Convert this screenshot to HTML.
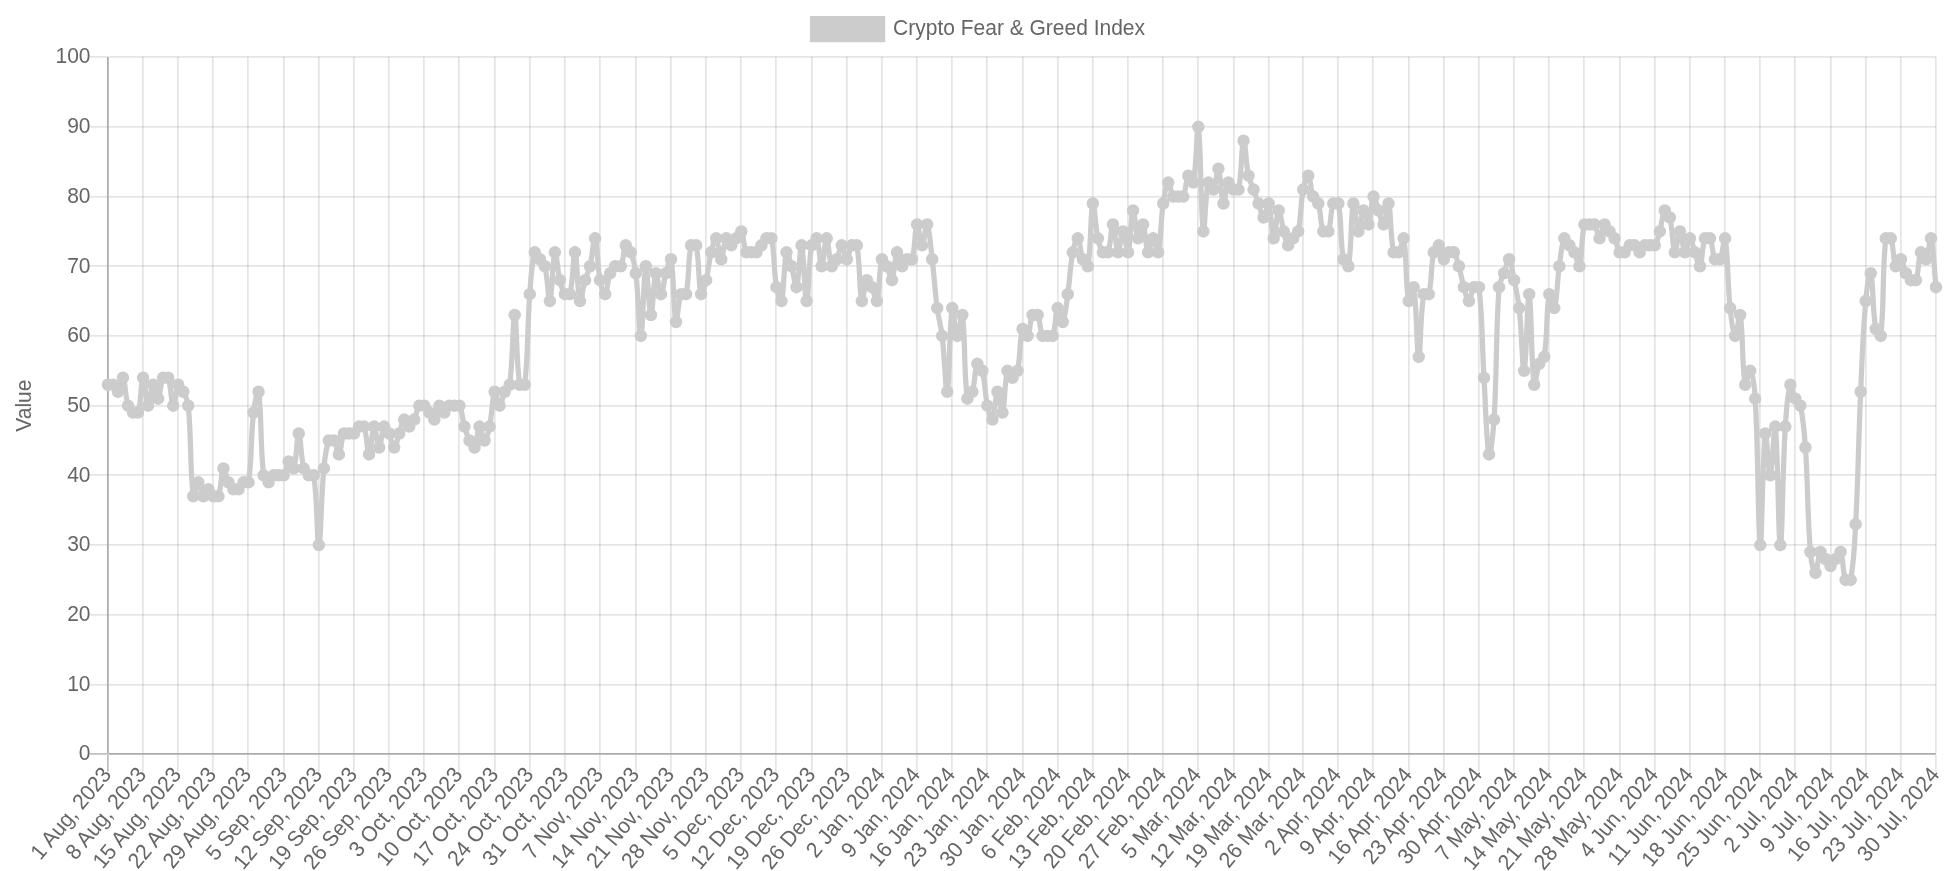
<!DOCTYPE html>
<html><head><meta charset="utf-8"><title>Crypto Fear &amp; Greed Index</title>
<style>html,body{margin:0;padding:0;background:#fff;width:1944px;height:871px;overflow:hidden}</style>
</head><body>
<svg width="1944" height="871" viewBox="0 0 1944 871" style="position:absolute;left:0;top:0;will-change:transform;font-family:'Liberation Sans',sans-serif;font-size:21px">
<rect width="1944" height="871" fill="#fff"/>
<path d="M142.875 56.75V753.00M142.875 754.75V771.50M177.875 56.75V753.00M177.875 754.75V771.50M212.875 56.75V753.00M212.875 754.75V771.50M247.875 56.75V753.00M247.875 754.75V771.50M283.875 56.75V753.00M283.875 754.75V771.50M318.875 56.75V753.00M318.875 754.75V771.50M353.875 56.75V753.00M353.875 754.75V771.50M388.875 56.75V753.00M388.875 754.75V771.50M423.875 56.75V753.00M423.875 754.75V771.50M458.875 56.75V753.00M458.875 754.75V771.50M494.875 56.75V753.00M494.875 754.75V771.50M529.875 56.75V753.00M529.875 754.75V771.50M564.875 56.75V753.00M564.875 754.75V771.50M599.875 56.75V753.00M599.875 754.75V771.50M635.875 56.75V753.00M635.875 754.75V771.50M670.875 56.75V753.00M670.875 754.75V771.50M705.875 56.75V753.00M705.875 754.75V771.50M740.875 56.75V753.00M740.875 754.75V771.50M775.875 56.75V753.00M775.875 754.75V771.50M811.875 56.75V753.00M811.875 754.75V771.50M846.875 56.75V753.00M846.875 754.75V771.50M881.875 56.75V753.00M881.875 754.75V771.50M916.875 56.75V753.00M916.875 754.75V771.50M951.875 56.75V753.00M951.875 754.75V771.50M986.875 56.75V753.00M986.875 754.75V771.50M1022.875 56.75V753.00M1022.875 754.75V771.50M1057.875 56.75V753.00M1057.875 754.75V771.50M1092.875 56.75V753.00M1092.875 754.75V771.50M1127.875 56.75V753.00M1127.875 754.75V771.50M1162.875 56.75V753.00M1162.875 754.75V771.50M1197.875 56.75V753.00M1197.875 754.75V771.50M1233.875 56.75V753.00M1233.875 754.75V771.50M1268.875 56.75V753.00M1268.875 754.75V771.50M1302.875 56.75V753.00M1302.875 754.75V771.50M1337.875 56.75V753.00M1337.875 754.75V771.50M1372.875 56.75V753.00M1372.875 754.75V771.50M1408.875 56.75V753.00M1408.875 754.75V771.50M1443.875 56.75V753.00M1443.875 754.75V771.50M1478.875 56.75V753.00M1478.875 754.75V771.50M1513.875 56.75V753.00M1513.875 754.75V771.50M1548.875 56.75V753.00M1548.875 754.75V771.50M1583.875 56.75V753.00M1583.875 754.75V771.50M1619.875 56.75V753.00M1619.875 754.75V771.50M1654.875 56.75V753.00M1654.875 754.75V771.50M1689.875 56.75V753.00M1689.875 754.75V771.50M1724.875 56.75V753.00M1724.875 754.75V771.50M1759.875 56.75V753.00M1759.875 754.75V771.50M1794.875 56.75V753.00M1794.875 754.75V771.50M1830.875 56.75V753.00M1830.875 754.75V771.50M1865.875 56.75V753.00M1865.875 754.75V771.50M1900.875 56.75V753.00M1900.875 754.75V771.50M1935.875 56.75V753.00M1935.875 754.75V771.50" stroke="#000" stroke-opacity="0.1" stroke-width="1.75" fill="none"/>
<path d="M90.00 684.875H107.00M108.75 684.875H1935.80M90.00 614.875H107.00M108.75 614.875H1935.80M90.00 544.875H107.00M108.75 544.875H1935.80M90.00 474.875H107.00M108.75 474.875H1935.80M90.00 405.875H107.00M108.75 405.875H1935.80M90.00 335.875H107.00M108.75 335.875H1935.80M90.00 265.875H107.00M108.75 265.875H1935.80M90.00 196.875H107.00M108.75 196.875H1935.80M90.00 126.875H107.00M108.75 126.875H1935.80M90.00 56.875H107.00M108.75 56.875H1935.80" stroke="#000" stroke-opacity="0.1" stroke-width="1.75" fill="none"/>
<path d="M107.875 56.75V753.00M107.875 754.75V771.50M90.00 753.875H107.00M108.75 753.875H1935.80" stroke="#000" stroke-opacity="0.25" stroke-width="1.75" fill="none"/>
<path d="M107.875 56.75V754.75" stroke="#000" stroke-opacity="0.1" stroke-width="1.75" fill="none"/>
<path d="M107.00 753.875H1935.80" stroke="#000" stroke-opacity="0.1" stroke-width="1.75" fill="none"/>
<path d="M107.90 384.74C109.91 384.74 111.44 383.71 112.92 384.74C115.46 386.50 116.47 392.73 117.94 391.71C120.49 389.95 121.59 375.86 122.97 377.77C125.60 381.43 124.91 394.95 127.99 405.65C128.92 408.89 130.48 410.86 133.01 412.62C134.49 413.65 137.53 414.36 138.03 412.62C141.55 400.42 140.83 379.31 143.06 377.77C144.85 376.53 145.79 404.07 148.08 405.65C149.81 406.85 150.72 386.39 153.10 384.74C154.74 383.60 156.48 399.82 158.12 398.68C160.50 397.03 159.89 384.55 163.14 377.77C163.91 376.19 167.56 376.09 168.17 377.77C171.58 387.24 170.91 404.07 173.19 405.65C174.92 406.85 175.34 388.72 178.21 384.74C179.36 383.15 181.76 388.64 183.23 391.71C185.78 397.00 187.69 399.78 188.26 405.65C191.71 441.60 189.82 469.90 193.28 496.26C193.84 500.56 196.29 482.32 198.30 482.32C200.31 482.32 200.78 494.50 203.32 496.26C204.80 497.28 206.34 489.29 208.35 489.29C210.35 489.29 210.83 494.50 213.37 496.26C214.85 497.29 217.78 497.94 218.39 496.26C221.80 486.79 220.77 472.04 223.41 468.38C224.79 466.47 225.89 477.03 228.43 482.32C229.91 485.39 230.92 487.53 233.46 489.29C234.94 490.32 237.00 490.32 238.48 489.29C241.01 487.53 240.97 484.08 243.50 482.32C244.98 481.29 248.25 484.19 248.52 482.32C252.27 456.31 250.47 440.34 253.55 412.62C254.49 404.09 257.75 386.59 258.57 391.71C261.76 411.68 259.95 442.48 263.59 475.35C263.96 478.72 266.60 482.32 268.61 482.32C270.62 482.32 271.10 477.11 273.63 475.35C275.12 474.32 276.65 475.35 278.66 475.35C280.67 475.35 282.66 476.76 283.68 475.35C286.68 471.19 286.16 463.17 288.70 461.41C290.18 460.39 292.94 470.57 293.72 468.38C296.95 459.42 296.74 433.53 298.75 433.53C300.75 433.53 300.54 454.93 303.77 468.38C304.56 471.66 306.25 473.59 308.79 475.35C310.27 476.38 313.54 473.48 313.81 475.35C317.56 501.36 316.92 546.38 318.83 545.05C320.94 543.59 320.92 498.93 323.86 468.38C324.94 457.11 325.47 449.97 328.88 440.50C329.48 438.82 332.88 439.09 333.90 440.50C336.90 444.66 337.28 455.58 338.92 454.44C341.30 452.79 340.69 440.31 343.95 433.53C344.71 431.95 346.96 433.53 348.97 433.53C350.98 433.53 352.51 434.56 353.99 433.53C356.53 431.77 356.48 428.32 359.01 426.56C360.49 425.53 363.43 424.88 364.03 426.56C367.45 436.03 367.05 454.44 369.06 454.44C371.07 454.44 371.80 428.14 374.08 426.56C375.81 425.36 377.09 447.47 379.10 447.47C381.11 447.47 381.25 430.54 384.12 426.56C385.27 424.97 387.67 430.46 389.15 433.53C391.69 438.82 392.16 447.47 394.17 447.47C396.18 447.47 397.18 439.11 399.19 433.53C401.20 427.95 401.67 421.35 404.21 419.59C405.69 418.57 407.23 426.56 409.24 426.56C411.24 426.56 412.78 422.66 414.26 419.59C416.80 414.30 416.28 409.81 419.28 405.65C420.30 404.24 422.82 404.62 424.30 405.65C426.84 407.41 427.32 409.83 429.32 412.62C431.33 415.41 432.87 420.61 434.35 419.59C436.89 417.83 436.83 407.41 439.37 405.65C440.84 404.63 442.38 412.62 444.39 412.62C446.40 412.62 446.88 407.41 449.41 405.65C450.90 404.62 452.43 405.65 454.44 405.65C456.44 405.65 458.70 404.07 459.46 405.65C462.71 412.43 462.10 418.31 464.48 426.56C466.12 432.25 466.96 435.21 469.50 440.50C470.98 443.57 473.38 449.06 474.52 447.47C477.40 443.49 477.17 428.21 479.55 426.56C481.19 425.42 482.56 440.50 484.57 440.50C486.58 440.50 488.40 432.34 489.59 426.56C492.42 412.82 491.79 397.60 494.61 391.71C495.80 389.23 497.63 405.65 499.64 405.65C501.64 405.65 502.11 397.00 504.66 391.71C506.13 388.64 509.24 388.10 509.68 384.74C513.26 357.43 512.69 315.04 514.70 315.04C516.71 315.04 515.98 358.73 519.72 384.74C519.99 386.61 524.54 386.64 524.75 384.74C528.55 350.40 527.03 330.31 529.77 294.13C531.04 277.34 531.45 263.89 534.79 252.31C535.47 249.95 537.80 256.49 539.81 259.28C541.82 262.07 544.05 262.97 544.84 266.25C548.07 279.70 548.18 303.43 549.86 301.10C552.20 297.85 552.33 257.61 554.88 252.31C556.35 249.25 557.26 269.21 559.90 280.19C561.28 285.93 561.92 289.97 564.93 294.13C565.94 295.54 569.52 295.91 569.95 294.13C573.54 279.18 573.11 251.02 574.97 252.31C577.13 253.81 577.20 293.35 579.99 301.10C581.22 304.50 582.64 288.44 585.01 280.19C586.65 274.50 588.66 271.99 590.04 266.25C592.67 255.27 593.44 236.13 595.06 238.37C597.46 241.70 597.11 263.69 600.08 280.19C601.13 285.99 603.46 295.27 605.10 294.13C607.48 292.48 607.25 281.19 610.13 273.22C611.27 270.04 612.57 267.94 615.15 266.25C616.83 265.15 619.89 267.98 620.77 266.25C624.15 259.62 622.92 249.32 625.79 245.34C626.94 243.75 629.67 249.13 630.81 252.31C633.69 260.28 634.81 264.70 635.84 273.22C638.83 298.16 638.96 337.27 640.86 335.95C642.97 334.48 643.52 271.16 645.88 266.25C647.54 262.80 648.74 313.54 650.90 315.04C652.76 316.33 653.27 278.76 655.93 273.22C657.28 270.39 658.94 294.13 660.95 294.13C662.96 294.13 663.59 281.47 665.97 273.22C667.61 267.53 670.23 255.56 670.99 259.28C674.24 275.08 673.24 312.40 676.01 322.01C677.26 326.34 677.62 303.60 681.04 294.13C681.64 292.45 685.69 295.94 686.06 294.13C689.70 276.43 687.44 263.04 691.08 245.34C691.45 243.53 695.73 243.53 696.10 245.34C699.75 263.04 698.04 283.42 701.13 294.13C702.06 297.36 704.77 285.93 706.15 280.19C708.79 269.21 708.53 263.29 711.17 252.31C712.55 246.57 714.55 237.23 716.19 238.37C718.57 240.02 719.21 259.28 721.21 259.28C723.22 259.28 723.37 242.35 726.24 238.37C727.38 236.78 729.25 245.34 731.26 245.34C733.27 245.34 734.27 241.16 736.28 238.37C738.29 235.58 740.16 229.81 741.30 231.40C744.17 235.38 743.07 245.53 746.33 252.31C747.09 253.89 749.34 252.31 751.35 252.31C753.36 252.31 754.89 253.34 756.37 252.31C758.91 250.55 759.38 248.13 761.39 245.34C763.40 242.55 763.88 240.13 766.42 238.37C767.90 237.34 771.06 236.56 771.44 238.37C775.08 256.07 773.37 267.89 776.46 287.16C777.39 292.98 780.55 304.33 781.48 301.10C784.57 290.39 783.42 263.02 786.50 252.31C787.44 249.08 789.89 260.56 791.53 266.25C793.91 274.50 795.19 289.99 796.55 287.16C799.21 281.62 799.85 242.95 801.57 245.34C803.86 248.52 804.58 301.10 806.59 301.10C808.60 301.10 808.13 267.09 811.62 245.34C812.15 242.00 815.70 236.42 816.64 238.37C819.72 244.79 819.65 266.25 821.66 266.25C823.67 266.25 824.67 238.37 826.68 238.37C828.69 238.37 828.62 259.83 831.70 266.25C832.64 268.20 835.25 262.35 836.73 259.28C839.27 253.99 839.74 245.34 841.75 245.34C843.76 245.34 844.76 259.28 846.77 259.28C848.78 259.28 848.79 249.50 851.79 245.34C852.81 243.93 856.48 243.50 856.82 245.34C860.50 265.81 858.94 291.03 861.84 301.10C862.95 304.97 863.99 284.17 866.86 280.19C868.01 278.60 870.41 284.09 871.88 287.16C874.43 292.45 875.86 304.00 876.90 301.10C879.88 292.85 878.59 270.86 881.93 259.28C882.61 256.92 885.47 263.18 886.95 266.25C889.49 271.54 890.59 282.10 891.97 280.19C894.61 276.53 894.36 255.97 896.99 252.31C898.37 250.40 899.47 264.49 902.02 266.25C903.49 267.27 904.50 261.04 907.04 259.28C908.52 258.25 911.56 261.02 912.06 259.28C915.58 247.08 914.59 227.89 917.08 224.43C918.61 222.32 920.10 245.34 922.10 245.34C924.11 245.34 925.60 222.32 927.13 224.43C929.62 227.89 930.47 245.30 932.15 259.28C934.49 278.76 934.62 288.63 937.17 308.07C938.64 319.30 940.84 324.71 942.19 335.95C944.86 358.17 945.61 396.18 947.22 391.71C949.62 385.02 949.24 324.74 952.24 308.07C953.25 302.43 954.98 334.37 957.26 335.95C958.99 337.15 961.46 309.92 962.28 315.04C965.48 335.01 963.66 370.86 967.31 398.68C967.68 401.53 971.39 394.95 972.33 391.71C975.41 381.01 974.27 370.25 977.35 363.83C978.28 361.88 981.58 367.52 982.37 370.80C985.60 384.25 984.57 391.91 987.39 405.65C988.58 411.43 991.04 421.50 992.42 419.59C995.05 415.93 995.15 393.29 997.44 391.71C999.17 390.51 1001.10 415.45 1002.46 412.62C1005.12 407.08 1004.15 382.38 1007.48 370.80C1008.16 368.44 1010.50 377.77 1012.51 377.77C1014.51 377.77 1016.85 374.11 1017.53 370.80C1020.86 354.59 1019.21 340.56 1022.55 328.98C1023.23 326.62 1026.43 337.54 1027.57 335.95C1030.44 331.97 1029.34 321.82 1032.59 315.04C1033.36 313.46 1036.86 313.46 1037.62 315.04C1040.87 321.82 1039.38 329.17 1042.64 335.95C1043.40 337.53 1045.65 335.95 1047.66 335.95C1049.67 335.95 1052.08 337.63 1052.68 335.95C1056.10 326.48 1055.07 311.73 1057.71 308.07C1059.09 306.16 1061.35 323.92 1062.73 322.01C1065.37 318.35 1066.13 305.34 1067.75 294.13C1070.15 277.46 1069.80 268.81 1072.77 252.31C1073.82 246.51 1076.16 237.23 1077.79 238.37C1080.17 240.02 1079.95 251.31 1082.82 259.28C1083.96 262.46 1087.36 268.93 1087.84 266.25C1091.37 246.63 1090.29 210.67 1092.86 203.52C1094.30 199.52 1095.06 224.63 1097.88 238.37C1099.07 244.15 1099.91 248.15 1102.91 252.31C1103.92 253.72 1107.32 253.99 1107.93 252.31C1111.34 242.84 1110.94 224.43 1112.95 224.43C1114.96 224.43 1115.69 250.73 1117.97 252.31C1119.71 253.51 1120.99 231.40 1123.00 231.40C1125.00 231.40 1126.66 255.14 1128.02 252.31C1130.68 246.77 1130.64 213.82 1133.04 210.49C1134.66 208.25 1135.42 234.71 1138.06 238.37C1139.44 240.28 1141.70 222.52 1143.08 224.43C1145.72 228.09 1145.47 248.65 1148.11 252.31C1149.49 254.22 1151.12 238.37 1153.13 238.37C1155.14 238.37 1157.22 255.54 1158.15 252.31C1161.24 241.60 1160.38 222.90 1163.17 203.52C1164.40 195.02 1165.82 184.26 1168.20 182.61C1169.83 181.47 1170.22 192.39 1173.22 196.55C1174.23 197.96 1176.23 196.55 1178.24 196.55C1180.25 196.55 1182.50 198.13 1183.26 196.55C1186.52 189.77 1185.41 179.62 1188.28 175.64C1189.43 174.05 1192.77 185.21 1193.31 182.61C1196.79 165.69 1196.93 120.05 1198.33 126.85C1200.95 139.57 1200.62 216.21 1203.35 231.40C1204.63 238.52 1204.95 196.84 1208.37 182.61C1208.97 180.12 1212.25 191.17 1213.40 189.58C1216.27 185.60 1216.89 166.56 1218.42 168.67C1220.91 172.13 1220.95 200.06 1223.44 203.52C1224.96 205.63 1225.59 186.59 1228.46 182.61C1229.61 181.02 1230.95 187.82 1233.48 189.58C1234.97 190.61 1238.13 191.39 1238.51 189.58C1242.15 171.88 1241.19 144.04 1243.53 140.79C1245.21 138.46 1245.72 161.90 1248.55 175.64C1249.74 181.42 1251.56 184.00 1253.57 189.58C1255.58 195.16 1256.59 197.94 1258.60 203.52C1260.60 209.10 1261.61 217.46 1263.62 217.46C1265.63 217.46 1267.45 201.04 1268.64 203.52C1271.47 209.41 1271.44 236.83 1273.66 238.37C1275.45 239.61 1276.40 212.07 1278.68 210.49C1280.42 209.29 1281.46 223.10 1283.71 231.40C1285.24 237.04 1285.75 243.58 1288.13 245.34C1289.53 246.37 1291.14 241.16 1293.15 238.37C1295.16 235.58 1297.49 234.71 1298.17 231.40C1301.51 215.19 1300.22 206.08 1303.20 189.58C1304.24 183.78 1306.58 174.50 1308.22 175.64C1310.60 177.29 1310.37 188.58 1313.24 196.55C1314.39 199.73 1317.33 200.28 1318.26 203.52C1321.35 214.22 1319.87 221.93 1323.29 231.40C1323.89 233.08 1327.70 233.08 1328.31 231.40C1331.72 221.93 1329.92 212.99 1333.33 203.52C1333.93 201.84 1338.02 201.68 1338.35 203.52C1342.04 223.99 1339.89 237.53 1343.37 259.28C1343.91 262.62 1347.91 268.93 1348.40 266.25C1351.93 246.63 1350.65 213.13 1353.42 203.52C1354.67 199.19 1356.16 229.82 1358.44 231.40C1360.17 232.60 1361.08 212.14 1363.46 210.49C1365.10 209.35 1367.11 226.34 1368.49 224.43C1371.12 220.77 1370.87 200.21 1373.51 196.55C1374.89 194.64 1376.52 204.91 1378.53 210.49C1380.54 216.07 1381.91 225.57 1383.55 224.43C1385.93 222.78 1387.35 200.12 1388.57 203.52C1391.37 211.27 1389.95 234.61 1393.60 252.31C1393.97 254.12 1397.60 253.72 1398.62 252.31C1401.62 248.15 1402.88 234.65 1403.64 238.37C1406.89 254.17 1405.41 285.30 1408.66 301.10C1409.43 304.82 1412.98 283.26 1413.69 287.16C1417.00 305.56 1416.59 355.39 1418.71 356.86C1420.61 358.18 1420.01 317.37 1423.73 294.13C1424.03 292.28 1428.32 295.91 1428.75 294.13C1432.34 279.18 1430.44 268.52 1433.77 252.31C1434.46 249.00 1437.32 244.32 1438.80 245.34C1441.34 247.10 1441.28 257.52 1443.82 259.28C1445.29 260.30 1446.31 254.07 1448.84 252.31C1450.32 251.28 1452.85 250.90 1453.86 252.31C1456.86 256.47 1457.25 260.56 1458.89 266.25C1461.26 274.50 1461.53 278.91 1463.91 287.16C1465.55 292.85 1466.92 301.10 1468.93 301.10C1470.94 301.10 1470.95 291.32 1473.95 287.16C1474.97 285.75 1478.76 285.26 1478.98 287.16C1482.78 321.50 1481.82 341.54 1484.00 377.77C1485.84 408.45 1486.26 442.97 1489.02 454.44C1490.28 459.70 1493.20 433.64 1494.04 419.59C1497.22 366.72 1495.45 339.82 1499.06 287.16C1499.47 281.27 1502.08 278.80 1504.09 273.22C1506.10 267.64 1507.47 258.14 1509.11 259.28C1511.49 260.93 1512.40 271.77 1514.13 280.19C1516.41 291.28 1517.91 296.82 1519.15 308.07C1521.92 333.06 1522.37 373.31 1524.18 370.80C1526.38 367.73 1527.36 291.57 1529.20 294.13C1531.37 297.15 1530.97 362.20 1534.22 384.74C1534.99 390.08 1536.37 371.80 1539.24 363.83C1540.39 360.65 1543.78 360.21 1544.26 356.86C1547.80 332.33 1546.03 309.93 1549.29 294.13C1550.05 290.41 1553.26 310.97 1554.31 308.07C1557.28 299.82 1556.93 282.92 1559.33 266.25C1560.95 255.04 1561.27 244.79 1564.35 238.37C1565.29 236.42 1567.37 242.55 1569.38 245.34C1571.38 248.13 1572.92 249.24 1574.40 252.31C1576.94 257.60 1578.37 269.15 1579.42 266.25C1582.39 258.00 1580.85 239.38 1584.44 224.43C1584.87 222.65 1587.46 224.43 1589.46 224.43C1591.47 224.43 1593.47 223.02 1594.49 224.43C1597.49 228.59 1597.50 238.37 1599.51 238.37C1601.52 238.37 1601.99 226.19 1604.53 224.43C1606.01 223.41 1607.54 228.61 1609.55 231.40C1611.56 234.19 1613.10 235.30 1614.58 238.37C1617.12 243.66 1616.60 248.15 1619.60 252.31C1620.62 253.72 1623.14 253.34 1624.62 252.31C1627.16 250.55 1627.11 247.10 1629.64 245.34C1631.12 244.31 1633.18 244.31 1634.66 245.34C1637.20 247.10 1637.68 252.31 1639.69 252.31C1641.70 252.31 1642.17 247.10 1644.71 245.34C1646.19 244.31 1647.72 245.34 1649.73 245.34C1651.74 245.34 1653.74 246.75 1654.75 245.34C1657.75 241.18 1658.14 237.09 1659.78 231.40C1662.15 223.15 1661.93 214.47 1664.80 210.49C1665.95 208.90 1669.03 214.18 1669.82 217.46C1673.05 230.91 1672.35 248.85 1674.84 252.31C1676.37 254.42 1677.86 231.40 1679.87 231.40C1681.87 231.40 1682.51 250.66 1684.89 252.31C1686.53 253.45 1687.90 238.37 1689.91 238.37C1691.92 238.37 1692.92 246.73 1694.93 252.31C1696.94 257.89 1698.57 268.16 1699.95 266.25C1702.59 262.59 1701.56 247.84 1704.98 238.37C1705.58 236.69 1709.24 236.79 1710.00 238.37C1713.26 245.15 1711.76 252.50 1715.02 259.28C1715.78 260.86 1719.28 260.86 1720.04 259.28C1723.30 252.50 1724.12 233.78 1725.07 238.37C1728.14 253.29 1727.23 280.30 1730.09 308.07C1731.25 319.33 1732.83 334.37 1735.11 335.95C1736.84 337.15 1739.19 310.45 1740.13 315.04C1743.20 329.96 1741.84 366.34 1745.15 384.74C1745.86 388.64 1748.80 368.89 1750.18 370.80C1752.81 374.46 1754.55 387.38 1755.20 398.68C1758.57 457.08 1757.94 537.14 1760.22 545.05C1761.96 551.08 1762.33 453.77 1765.24 433.53C1766.34 425.89 1768.41 476.64 1770.27 475.35C1772.43 473.85 1774.11 418.40 1775.29 426.56C1778.13 446.28 1778.30 545.05 1780.31 545.05C1782.32 545.05 1782.37 473.88 1785.33 426.56C1786.39 409.75 1787.38 392.99 1790.35 384.74C1791.40 381.84 1792.83 393.39 1795.38 398.68C1796.85 401.75 1799.72 402.34 1800.40 405.65C1803.74 421.86 1804.27 430.67 1805.42 447.47C1808.29 489.22 1807.11 510.39 1810.44 552.02C1811.13 560.57 1813.46 572.93 1815.47 572.93C1817.47 572.93 1817.62 556.00 1820.49 552.02C1821.64 550.43 1823.50 556.20 1825.51 558.99C1827.52 561.78 1828.52 565.96 1830.53 565.96C1832.54 565.96 1833.55 561.78 1835.55 558.99C1837.56 556.20 1839.64 550.07 1840.58 552.02C1843.66 558.44 1842.19 570.43 1845.60 579.90C1846.20 581.58 1850.29 581.74 1850.62 579.90C1854.31 559.43 1854.45 546.50 1855.64 524.14C1858.47 471.22 1858.28 444.66 1860.67 391.71C1862.30 355.45 1862.63 337.22 1865.69 301.10C1866.64 289.82 1869.36 269.47 1870.71 273.22C1873.38 280.63 1872.25 307.23 1875.73 328.98C1876.27 332.32 1880.43 338.88 1880.76 335.95C1884.45 302.64 1881.96 275.49 1885.78 238.37C1885.97 236.46 1890.19 236.69 1890.80 238.37C1894.21 247.84 1892.74 259.83 1895.82 266.25C1896.76 268.20 1899.37 258.26 1900.84 259.28C1903.39 261.04 1903.32 267.93 1905.87 273.22C1907.34 276.29 1908.35 278.43 1910.89 280.19C1912.37 281.22 1915.31 281.87 1915.91 280.19C1919.32 270.72 1917.85 258.73 1920.93 252.31C1921.87 250.36 1924.81 260.87 1925.96 259.28C1928.83 255.30 1929.75 234.97 1930.98 238.37C1933.77 246.12 1933.99 267.64 1936.00 287.16" stroke="#cccccc" stroke-width="5.25" fill="none" stroke-linecap="butt" stroke-linejoin="miter" stroke-miterlimit="10"/>
<path d="M101.65 384.74a6.25 6.25 0 1 0 12.5 0a6.25 6.25 0 1 0 -12.5 0zM106.67 384.74a6.25 6.25 0 1 0 12.5 0a6.25 6.25 0 1 0 -12.5 0zM111.69 391.71a6.25 6.25 0 1 0 12.5 0a6.25 6.25 0 1 0 -12.5 0zM116.72 377.77a6.25 6.25 0 1 0 12.5 0a6.25 6.25 0 1 0 -12.5 0zM121.74 405.65a6.25 6.25 0 1 0 12.5 0a6.25 6.25 0 1 0 -12.5 0zM126.76 412.62a6.25 6.25 0 1 0 12.5 0a6.25 6.25 0 1 0 -12.5 0zM131.78 412.62a6.25 6.25 0 1 0 12.5 0a6.25 6.25 0 1 0 -12.5 0zM136.81 377.77a6.25 6.25 0 1 0 12.5 0a6.25 6.25 0 1 0 -12.5 0zM141.83 405.65a6.25 6.25 0 1 0 12.5 0a6.25 6.25 0 1 0 -12.5 0zM146.85 384.74a6.25 6.25 0 1 0 12.5 0a6.25 6.25 0 1 0 -12.5 0zM151.87 398.68a6.25 6.25 0 1 0 12.5 0a6.25 6.25 0 1 0 -12.5 0zM156.89 377.77a6.25 6.25 0 1 0 12.5 0a6.25 6.25 0 1 0 -12.5 0zM161.92 377.77a6.25 6.25 0 1 0 12.5 0a6.25 6.25 0 1 0 -12.5 0zM166.94 405.65a6.25 6.25 0 1 0 12.5 0a6.25 6.25 0 1 0 -12.5 0zM171.96 384.74a6.25 6.25 0 1 0 12.5 0a6.25 6.25 0 1 0 -12.5 0zM176.98 391.71a6.25 6.25 0 1 0 12.5 0a6.25 6.25 0 1 0 -12.5 0zM182.01 405.65a6.25 6.25 0 1 0 12.5 0a6.25 6.25 0 1 0 -12.5 0zM187.03 496.26a6.25 6.25 0 1 0 12.5 0a6.25 6.25 0 1 0 -12.5 0zM192.05 482.32a6.25 6.25 0 1 0 12.5 0a6.25 6.25 0 1 0 -12.5 0zM197.07 496.26a6.25 6.25 0 1 0 12.5 0a6.25 6.25 0 1 0 -12.5 0zM202.10 489.29a6.25 6.25 0 1 0 12.5 0a6.25 6.25 0 1 0 -12.5 0zM207.12 496.26a6.25 6.25 0 1 0 12.5 0a6.25 6.25 0 1 0 -12.5 0zM212.14 496.26a6.25 6.25 0 1 0 12.5 0a6.25 6.25 0 1 0 -12.5 0zM217.16 468.38a6.25 6.25 0 1 0 12.5 0a6.25 6.25 0 1 0 -12.5 0zM222.18 482.32a6.25 6.25 0 1 0 12.5 0a6.25 6.25 0 1 0 -12.5 0zM227.21 489.29a6.25 6.25 0 1 0 12.5 0a6.25 6.25 0 1 0 -12.5 0zM232.23 489.29a6.25 6.25 0 1 0 12.5 0a6.25 6.25 0 1 0 -12.5 0zM237.25 482.32a6.25 6.25 0 1 0 12.5 0a6.25 6.25 0 1 0 -12.5 0zM242.27 482.32a6.25 6.25 0 1 0 12.5 0a6.25 6.25 0 1 0 -12.5 0zM247.30 412.62a6.25 6.25 0 1 0 12.5 0a6.25 6.25 0 1 0 -12.5 0zM252.32 391.71a6.25 6.25 0 1 0 12.5 0a6.25 6.25 0 1 0 -12.5 0zM257.34 475.35a6.25 6.25 0 1 0 12.5 0a6.25 6.25 0 1 0 -12.5 0zM262.36 482.32a6.25 6.25 0 1 0 12.5 0a6.25 6.25 0 1 0 -12.5 0zM267.38 475.35a6.25 6.25 0 1 0 12.5 0a6.25 6.25 0 1 0 -12.5 0zM272.41 475.35a6.25 6.25 0 1 0 12.5 0a6.25 6.25 0 1 0 -12.5 0zM277.43 475.35a6.25 6.25 0 1 0 12.5 0a6.25 6.25 0 1 0 -12.5 0zM282.45 461.41a6.25 6.25 0 1 0 12.5 0a6.25 6.25 0 1 0 -12.5 0zM287.47 468.38a6.25 6.25 0 1 0 12.5 0a6.25 6.25 0 1 0 -12.5 0zM292.50 433.53a6.25 6.25 0 1 0 12.5 0a6.25 6.25 0 1 0 -12.5 0zM297.52 468.38a6.25 6.25 0 1 0 12.5 0a6.25 6.25 0 1 0 -12.5 0zM302.54 475.35a6.25 6.25 0 1 0 12.5 0a6.25 6.25 0 1 0 -12.5 0zM307.56 475.35a6.25 6.25 0 1 0 12.5 0a6.25 6.25 0 1 0 -12.5 0zM312.58 545.05a6.25 6.25 0 1 0 12.5 0a6.25 6.25 0 1 0 -12.5 0zM317.61 468.38a6.25 6.25 0 1 0 12.5 0a6.25 6.25 0 1 0 -12.5 0zM322.63 440.50a6.25 6.25 0 1 0 12.5 0a6.25 6.25 0 1 0 -12.5 0zM327.65 440.50a6.25 6.25 0 1 0 12.5 0a6.25 6.25 0 1 0 -12.5 0zM332.67 454.44a6.25 6.25 0 1 0 12.5 0a6.25 6.25 0 1 0 -12.5 0zM337.70 433.53a6.25 6.25 0 1 0 12.5 0a6.25 6.25 0 1 0 -12.5 0zM342.72 433.53a6.25 6.25 0 1 0 12.5 0a6.25 6.25 0 1 0 -12.5 0zM347.74 433.53a6.25 6.25 0 1 0 12.5 0a6.25 6.25 0 1 0 -12.5 0zM352.76 426.56a6.25 6.25 0 1 0 12.5 0a6.25 6.25 0 1 0 -12.5 0zM357.78 426.56a6.25 6.25 0 1 0 12.5 0a6.25 6.25 0 1 0 -12.5 0zM362.81 454.44a6.25 6.25 0 1 0 12.5 0a6.25 6.25 0 1 0 -12.5 0zM367.83 426.56a6.25 6.25 0 1 0 12.5 0a6.25 6.25 0 1 0 -12.5 0zM372.85 447.47a6.25 6.25 0 1 0 12.5 0a6.25 6.25 0 1 0 -12.5 0zM377.87 426.56a6.25 6.25 0 1 0 12.5 0a6.25 6.25 0 1 0 -12.5 0zM382.90 433.53a6.25 6.25 0 1 0 12.5 0a6.25 6.25 0 1 0 -12.5 0zM387.92 447.47a6.25 6.25 0 1 0 12.5 0a6.25 6.25 0 1 0 -12.5 0zM392.94 433.53a6.25 6.25 0 1 0 12.5 0a6.25 6.25 0 1 0 -12.5 0zM397.96 419.59a6.25 6.25 0 1 0 12.5 0a6.25 6.25 0 1 0 -12.5 0zM402.99 426.56a6.25 6.25 0 1 0 12.5 0a6.25 6.25 0 1 0 -12.5 0zM408.01 419.59a6.25 6.25 0 1 0 12.5 0a6.25 6.25 0 1 0 -12.5 0zM413.03 405.65a6.25 6.25 0 1 0 12.5 0a6.25 6.25 0 1 0 -12.5 0zM418.05 405.65a6.25 6.25 0 1 0 12.5 0a6.25 6.25 0 1 0 -12.5 0zM423.07 412.62a6.25 6.25 0 1 0 12.5 0a6.25 6.25 0 1 0 -12.5 0zM428.10 419.59a6.25 6.25 0 1 0 12.5 0a6.25 6.25 0 1 0 -12.5 0zM433.12 405.65a6.25 6.25 0 1 0 12.5 0a6.25 6.25 0 1 0 -12.5 0zM438.14 412.62a6.25 6.25 0 1 0 12.5 0a6.25 6.25 0 1 0 -12.5 0zM443.16 405.65a6.25 6.25 0 1 0 12.5 0a6.25 6.25 0 1 0 -12.5 0zM448.19 405.65a6.25 6.25 0 1 0 12.5 0a6.25 6.25 0 1 0 -12.5 0zM453.21 405.65a6.25 6.25 0 1 0 12.5 0a6.25 6.25 0 1 0 -12.5 0zM458.23 426.56a6.25 6.25 0 1 0 12.5 0a6.25 6.25 0 1 0 -12.5 0zM463.25 440.50a6.25 6.25 0 1 0 12.5 0a6.25 6.25 0 1 0 -12.5 0zM468.27 447.47a6.25 6.25 0 1 0 12.5 0a6.25 6.25 0 1 0 -12.5 0zM473.30 426.56a6.25 6.25 0 1 0 12.5 0a6.25 6.25 0 1 0 -12.5 0zM478.32 440.50a6.25 6.25 0 1 0 12.5 0a6.25 6.25 0 1 0 -12.5 0zM483.34 426.56a6.25 6.25 0 1 0 12.5 0a6.25 6.25 0 1 0 -12.5 0zM488.36 391.71a6.25 6.25 0 1 0 12.5 0a6.25 6.25 0 1 0 -12.5 0zM493.39 405.65a6.25 6.25 0 1 0 12.5 0a6.25 6.25 0 1 0 -12.5 0zM498.41 391.71a6.25 6.25 0 1 0 12.5 0a6.25 6.25 0 1 0 -12.5 0zM503.43 384.74a6.25 6.25 0 1 0 12.5 0a6.25 6.25 0 1 0 -12.5 0zM508.45 315.04a6.25 6.25 0 1 0 12.5 0a6.25 6.25 0 1 0 -12.5 0zM513.47 384.74a6.25 6.25 0 1 0 12.5 0a6.25 6.25 0 1 0 -12.5 0zM518.50 384.74a6.25 6.25 0 1 0 12.5 0a6.25 6.25 0 1 0 -12.5 0zM523.52 294.13a6.25 6.25 0 1 0 12.5 0a6.25 6.25 0 1 0 -12.5 0zM528.54 252.31a6.25 6.25 0 1 0 12.5 0a6.25 6.25 0 1 0 -12.5 0zM533.56 259.28a6.25 6.25 0 1 0 12.5 0a6.25 6.25 0 1 0 -12.5 0zM538.59 266.25a6.25 6.25 0 1 0 12.5 0a6.25 6.25 0 1 0 -12.5 0zM543.61 301.10a6.25 6.25 0 1 0 12.5 0a6.25 6.25 0 1 0 -12.5 0zM548.63 252.31a6.25 6.25 0 1 0 12.5 0a6.25 6.25 0 1 0 -12.5 0zM553.65 280.19a6.25 6.25 0 1 0 12.5 0a6.25 6.25 0 1 0 -12.5 0zM558.68 294.13a6.25 6.25 0 1 0 12.5 0a6.25 6.25 0 1 0 -12.5 0zM563.70 294.13a6.25 6.25 0 1 0 12.5 0a6.25 6.25 0 1 0 -12.5 0zM568.72 252.31a6.25 6.25 0 1 0 12.5 0a6.25 6.25 0 1 0 -12.5 0zM573.74 301.10a6.25 6.25 0 1 0 12.5 0a6.25 6.25 0 1 0 -12.5 0zM578.76 280.19a6.25 6.25 0 1 0 12.5 0a6.25 6.25 0 1 0 -12.5 0zM583.79 266.25a6.25 6.25 0 1 0 12.5 0a6.25 6.25 0 1 0 -12.5 0zM588.81 238.37a6.25 6.25 0 1 0 12.5 0a6.25 6.25 0 1 0 -12.5 0zM593.83 280.19a6.25 6.25 0 1 0 12.5 0a6.25 6.25 0 1 0 -12.5 0zM598.85 294.13a6.25 6.25 0 1 0 12.5 0a6.25 6.25 0 1 0 -12.5 0zM603.88 273.22a6.25 6.25 0 1 0 12.5 0a6.25 6.25 0 1 0 -12.5 0zM608.90 266.25a6.25 6.25 0 1 0 12.5 0a6.25 6.25 0 1 0 -12.5 0zM614.52 266.25a6.25 6.25 0 1 0 12.5 0a6.25 6.25 0 1 0 -12.5 0zM619.54 245.34a6.25 6.25 0 1 0 12.5 0a6.25 6.25 0 1 0 -12.5 0zM624.56 252.31a6.25 6.25 0 1 0 12.5 0a6.25 6.25 0 1 0 -12.5 0zM629.59 273.22a6.25 6.25 0 1 0 12.5 0a6.25 6.25 0 1 0 -12.5 0zM634.61 335.95a6.25 6.25 0 1 0 12.5 0a6.25 6.25 0 1 0 -12.5 0zM639.63 266.25a6.25 6.25 0 1 0 12.5 0a6.25 6.25 0 1 0 -12.5 0zM644.65 315.04a6.25 6.25 0 1 0 12.5 0a6.25 6.25 0 1 0 -12.5 0zM649.68 273.22a6.25 6.25 0 1 0 12.5 0a6.25 6.25 0 1 0 -12.5 0zM654.70 294.13a6.25 6.25 0 1 0 12.5 0a6.25 6.25 0 1 0 -12.5 0zM659.72 273.22a6.25 6.25 0 1 0 12.5 0a6.25 6.25 0 1 0 -12.5 0zM664.74 259.28a6.25 6.25 0 1 0 12.5 0a6.25 6.25 0 1 0 -12.5 0zM669.76 322.01a6.25 6.25 0 1 0 12.5 0a6.25 6.25 0 1 0 -12.5 0zM674.79 294.13a6.25 6.25 0 1 0 12.5 0a6.25 6.25 0 1 0 -12.5 0zM679.81 294.13a6.25 6.25 0 1 0 12.5 0a6.25 6.25 0 1 0 -12.5 0zM684.83 245.34a6.25 6.25 0 1 0 12.5 0a6.25 6.25 0 1 0 -12.5 0zM689.85 245.34a6.25 6.25 0 1 0 12.5 0a6.25 6.25 0 1 0 -12.5 0zM694.88 294.13a6.25 6.25 0 1 0 12.5 0a6.25 6.25 0 1 0 -12.5 0zM699.90 280.19a6.25 6.25 0 1 0 12.5 0a6.25 6.25 0 1 0 -12.5 0zM704.92 252.31a6.25 6.25 0 1 0 12.5 0a6.25 6.25 0 1 0 -12.5 0zM709.94 238.37a6.25 6.25 0 1 0 12.5 0a6.25 6.25 0 1 0 -12.5 0zM714.96 259.28a6.25 6.25 0 1 0 12.5 0a6.25 6.25 0 1 0 -12.5 0zM719.99 238.37a6.25 6.25 0 1 0 12.5 0a6.25 6.25 0 1 0 -12.5 0zM725.01 245.34a6.25 6.25 0 1 0 12.5 0a6.25 6.25 0 1 0 -12.5 0zM730.03 238.37a6.25 6.25 0 1 0 12.5 0a6.25 6.25 0 1 0 -12.5 0zM735.05 231.40a6.25 6.25 0 1 0 12.5 0a6.25 6.25 0 1 0 -12.5 0zM740.08 252.31a6.25 6.25 0 1 0 12.5 0a6.25 6.25 0 1 0 -12.5 0zM745.10 252.31a6.25 6.25 0 1 0 12.5 0a6.25 6.25 0 1 0 -12.5 0zM750.12 252.31a6.25 6.25 0 1 0 12.5 0a6.25 6.25 0 1 0 -12.5 0zM755.14 245.34a6.25 6.25 0 1 0 12.5 0a6.25 6.25 0 1 0 -12.5 0zM760.17 238.37a6.25 6.25 0 1 0 12.5 0a6.25 6.25 0 1 0 -12.5 0zM765.19 238.37a6.25 6.25 0 1 0 12.5 0a6.25 6.25 0 1 0 -12.5 0zM770.21 287.16a6.25 6.25 0 1 0 12.5 0a6.25 6.25 0 1 0 -12.5 0zM775.23 301.10a6.25 6.25 0 1 0 12.5 0a6.25 6.25 0 1 0 -12.5 0zM780.25 252.31a6.25 6.25 0 1 0 12.5 0a6.25 6.25 0 1 0 -12.5 0zM785.28 266.25a6.25 6.25 0 1 0 12.5 0a6.25 6.25 0 1 0 -12.5 0zM790.30 287.16a6.25 6.25 0 1 0 12.5 0a6.25 6.25 0 1 0 -12.5 0zM795.32 245.34a6.25 6.25 0 1 0 12.5 0a6.25 6.25 0 1 0 -12.5 0zM800.34 301.10a6.25 6.25 0 1 0 12.5 0a6.25 6.25 0 1 0 -12.5 0zM805.37 245.34a6.25 6.25 0 1 0 12.5 0a6.25 6.25 0 1 0 -12.5 0zM810.39 238.37a6.25 6.25 0 1 0 12.5 0a6.25 6.25 0 1 0 -12.5 0zM815.41 266.25a6.25 6.25 0 1 0 12.5 0a6.25 6.25 0 1 0 -12.5 0zM820.43 238.37a6.25 6.25 0 1 0 12.5 0a6.25 6.25 0 1 0 -12.5 0zM825.45 266.25a6.25 6.25 0 1 0 12.5 0a6.25 6.25 0 1 0 -12.5 0zM830.48 259.28a6.25 6.25 0 1 0 12.5 0a6.25 6.25 0 1 0 -12.5 0zM835.50 245.34a6.25 6.25 0 1 0 12.5 0a6.25 6.25 0 1 0 -12.5 0zM840.52 259.28a6.25 6.25 0 1 0 12.5 0a6.25 6.25 0 1 0 -12.5 0zM845.54 245.34a6.25 6.25 0 1 0 12.5 0a6.25 6.25 0 1 0 -12.5 0zM850.57 245.34a6.25 6.25 0 1 0 12.5 0a6.25 6.25 0 1 0 -12.5 0zM855.59 301.10a6.25 6.25 0 1 0 12.5 0a6.25 6.25 0 1 0 -12.5 0zM860.61 280.19a6.25 6.25 0 1 0 12.5 0a6.25 6.25 0 1 0 -12.5 0zM865.63 287.16a6.25 6.25 0 1 0 12.5 0a6.25 6.25 0 1 0 -12.5 0zM870.65 301.10a6.25 6.25 0 1 0 12.5 0a6.25 6.25 0 1 0 -12.5 0zM875.68 259.28a6.25 6.25 0 1 0 12.5 0a6.25 6.25 0 1 0 -12.5 0zM880.70 266.25a6.25 6.25 0 1 0 12.5 0a6.25 6.25 0 1 0 -12.5 0zM885.72 280.19a6.25 6.25 0 1 0 12.5 0a6.25 6.25 0 1 0 -12.5 0zM890.74 252.31a6.25 6.25 0 1 0 12.5 0a6.25 6.25 0 1 0 -12.5 0zM895.77 266.25a6.25 6.25 0 1 0 12.5 0a6.25 6.25 0 1 0 -12.5 0zM900.79 259.28a6.25 6.25 0 1 0 12.5 0a6.25 6.25 0 1 0 -12.5 0zM905.81 259.28a6.25 6.25 0 1 0 12.5 0a6.25 6.25 0 1 0 -12.5 0zM910.83 224.43a6.25 6.25 0 1 0 12.5 0a6.25 6.25 0 1 0 -12.5 0zM915.85 245.34a6.25 6.25 0 1 0 12.5 0a6.25 6.25 0 1 0 -12.5 0zM920.88 224.43a6.25 6.25 0 1 0 12.5 0a6.25 6.25 0 1 0 -12.5 0zM925.90 259.28a6.25 6.25 0 1 0 12.5 0a6.25 6.25 0 1 0 -12.5 0zM930.92 308.07a6.25 6.25 0 1 0 12.5 0a6.25 6.25 0 1 0 -12.5 0zM935.94 335.95a6.25 6.25 0 1 0 12.5 0a6.25 6.25 0 1 0 -12.5 0zM940.97 391.71a6.25 6.25 0 1 0 12.5 0a6.25 6.25 0 1 0 -12.5 0zM945.99 308.07a6.25 6.25 0 1 0 12.5 0a6.25 6.25 0 1 0 -12.5 0zM951.01 335.95a6.25 6.25 0 1 0 12.5 0a6.25 6.25 0 1 0 -12.5 0zM956.03 315.04a6.25 6.25 0 1 0 12.5 0a6.25 6.25 0 1 0 -12.5 0zM961.06 398.68a6.25 6.25 0 1 0 12.5 0a6.25 6.25 0 1 0 -12.5 0zM966.08 391.71a6.25 6.25 0 1 0 12.5 0a6.25 6.25 0 1 0 -12.5 0zM971.10 363.83a6.25 6.25 0 1 0 12.5 0a6.25 6.25 0 1 0 -12.5 0zM976.12 370.80a6.25 6.25 0 1 0 12.5 0a6.25 6.25 0 1 0 -12.5 0zM981.14 405.65a6.25 6.25 0 1 0 12.5 0a6.25 6.25 0 1 0 -12.5 0zM986.17 419.59a6.25 6.25 0 1 0 12.5 0a6.25 6.25 0 1 0 -12.5 0zM991.19 391.71a6.25 6.25 0 1 0 12.5 0a6.25 6.25 0 1 0 -12.5 0zM996.21 412.62a6.25 6.25 0 1 0 12.5 0a6.25 6.25 0 1 0 -12.5 0zM1001.23 370.80a6.25 6.25 0 1 0 12.5 0a6.25 6.25 0 1 0 -12.5 0zM1006.26 377.77a6.25 6.25 0 1 0 12.5 0a6.25 6.25 0 1 0 -12.5 0zM1011.28 370.80a6.25 6.25 0 1 0 12.5 0a6.25 6.25 0 1 0 -12.5 0zM1016.30 328.98a6.25 6.25 0 1 0 12.5 0a6.25 6.25 0 1 0 -12.5 0zM1021.32 335.95a6.25 6.25 0 1 0 12.5 0a6.25 6.25 0 1 0 -12.5 0zM1026.34 315.04a6.25 6.25 0 1 0 12.5 0a6.25 6.25 0 1 0 -12.5 0zM1031.37 315.04a6.25 6.25 0 1 0 12.5 0a6.25 6.25 0 1 0 -12.5 0zM1036.39 335.95a6.25 6.25 0 1 0 12.5 0a6.25 6.25 0 1 0 -12.5 0zM1041.41 335.95a6.25 6.25 0 1 0 12.5 0a6.25 6.25 0 1 0 -12.5 0zM1046.43 335.95a6.25 6.25 0 1 0 12.5 0a6.25 6.25 0 1 0 -12.5 0zM1051.46 308.07a6.25 6.25 0 1 0 12.5 0a6.25 6.25 0 1 0 -12.5 0zM1056.48 322.01a6.25 6.25 0 1 0 12.5 0a6.25 6.25 0 1 0 -12.5 0zM1061.50 294.13a6.25 6.25 0 1 0 12.5 0a6.25 6.25 0 1 0 -12.5 0zM1066.52 252.31a6.25 6.25 0 1 0 12.5 0a6.25 6.25 0 1 0 -12.5 0zM1071.54 238.37a6.25 6.25 0 1 0 12.5 0a6.25 6.25 0 1 0 -12.5 0zM1076.57 259.28a6.25 6.25 0 1 0 12.5 0a6.25 6.25 0 1 0 -12.5 0zM1081.59 266.25a6.25 6.25 0 1 0 12.5 0a6.25 6.25 0 1 0 -12.5 0zM1086.61 203.52a6.25 6.25 0 1 0 12.5 0a6.25 6.25 0 1 0 -12.5 0zM1091.63 238.37a6.25 6.25 0 1 0 12.5 0a6.25 6.25 0 1 0 -12.5 0zM1096.66 252.31a6.25 6.25 0 1 0 12.5 0a6.25 6.25 0 1 0 -12.5 0zM1101.68 252.31a6.25 6.25 0 1 0 12.5 0a6.25 6.25 0 1 0 -12.5 0zM1106.70 224.43a6.25 6.25 0 1 0 12.5 0a6.25 6.25 0 1 0 -12.5 0zM1111.72 252.31a6.25 6.25 0 1 0 12.5 0a6.25 6.25 0 1 0 -12.5 0zM1116.75 231.40a6.25 6.25 0 1 0 12.5 0a6.25 6.25 0 1 0 -12.5 0zM1121.77 252.31a6.25 6.25 0 1 0 12.5 0a6.25 6.25 0 1 0 -12.5 0zM1126.79 210.49a6.25 6.25 0 1 0 12.5 0a6.25 6.25 0 1 0 -12.5 0zM1131.81 238.37a6.25 6.25 0 1 0 12.5 0a6.25 6.25 0 1 0 -12.5 0zM1136.83 224.43a6.25 6.25 0 1 0 12.5 0a6.25 6.25 0 1 0 -12.5 0zM1141.86 252.31a6.25 6.25 0 1 0 12.5 0a6.25 6.25 0 1 0 -12.5 0zM1146.88 238.37a6.25 6.25 0 1 0 12.5 0a6.25 6.25 0 1 0 -12.5 0zM1151.90 252.31a6.25 6.25 0 1 0 12.5 0a6.25 6.25 0 1 0 -12.5 0zM1156.92 203.52a6.25 6.25 0 1 0 12.5 0a6.25 6.25 0 1 0 -12.5 0zM1161.95 182.61a6.25 6.25 0 1 0 12.5 0a6.25 6.25 0 1 0 -12.5 0zM1166.97 196.55a6.25 6.25 0 1 0 12.5 0a6.25 6.25 0 1 0 -12.5 0zM1171.99 196.55a6.25 6.25 0 1 0 12.5 0a6.25 6.25 0 1 0 -12.5 0zM1177.01 196.55a6.25 6.25 0 1 0 12.5 0a6.25 6.25 0 1 0 -12.5 0zM1182.03 175.64a6.25 6.25 0 1 0 12.5 0a6.25 6.25 0 1 0 -12.5 0zM1187.06 182.61a6.25 6.25 0 1 0 12.5 0a6.25 6.25 0 1 0 -12.5 0zM1192.08 126.85a6.25 6.25 0 1 0 12.5 0a6.25 6.25 0 1 0 -12.5 0zM1197.10 231.40a6.25 6.25 0 1 0 12.5 0a6.25 6.25 0 1 0 -12.5 0zM1202.12 182.61a6.25 6.25 0 1 0 12.5 0a6.25 6.25 0 1 0 -12.5 0zM1207.15 189.58a6.25 6.25 0 1 0 12.5 0a6.25 6.25 0 1 0 -12.5 0zM1212.17 168.67a6.25 6.25 0 1 0 12.5 0a6.25 6.25 0 1 0 -12.5 0zM1217.19 203.52a6.25 6.25 0 1 0 12.5 0a6.25 6.25 0 1 0 -12.5 0zM1222.21 182.61a6.25 6.25 0 1 0 12.5 0a6.25 6.25 0 1 0 -12.5 0zM1227.23 189.58a6.25 6.25 0 1 0 12.5 0a6.25 6.25 0 1 0 -12.5 0zM1232.26 189.58a6.25 6.25 0 1 0 12.5 0a6.25 6.25 0 1 0 -12.5 0zM1237.28 140.79a6.25 6.25 0 1 0 12.5 0a6.25 6.25 0 1 0 -12.5 0zM1242.30 175.64a6.25 6.25 0 1 0 12.5 0a6.25 6.25 0 1 0 -12.5 0zM1247.32 189.58a6.25 6.25 0 1 0 12.5 0a6.25 6.25 0 1 0 -12.5 0zM1252.35 203.52a6.25 6.25 0 1 0 12.5 0a6.25 6.25 0 1 0 -12.5 0zM1257.37 217.46a6.25 6.25 0 1 0 12.5 0a6.25 6.25 0 1 0 -12.5 0zM1262.39 203.52a6.25 6.25 0 1 0 12.5 0a6.25 6.25 0 1 0 -12.5 0zM1267.41 238.37a6.25 6.25 0 1 0 12.5 0a6.25 6.25 0 1 0 -12.5 0zM1272.43 210.49a6.25 6.25 0 1 0 12.5 0a6.25 6.25 0 1 0 -12.5 0zM1277.46 231.40a6.25 6.25 0 1 0 12.5 0a6.25 6.25 0 1 0 -12.5 0zM1281.88 245.34a6.25 6.25 0 1 0 12.5 0a6.25 6.25 0 1 0 -12.5 0zM1286.90 238.37a6.25 6.25 0 1 0 12.5 0a6.25 6.25 0 1 0 -12.5 0zM1291.92 231.40a6.25 6.25 0 1 0 12.5 0a6.25 6.25 0 1 0 -12.5 0zM1296.95 189.58a6.25 6.25 0 1 0 12.5 0a6.25 6.25 0 1 0 -12.5 0zM1301.97 175.64a6.25 6.25 0 1 0 12.5 0a6.25 6.25 0 1 0 -12.5 0zM1306.99 196.55a6.25 6.25 0 1 0 12.5 0a6.25 6.25 0 1 0 -12.5 0zM1312.01 203.52a6.25 6.25 0 1 0 12.5 0a6.25 6.25 0 1 0 -12.5 0zM1317.04 231.40a6.25 6.25 0 1 0 12.5 0a6.25 6.25 0 1 0 -12.5 0zM1322.06 231.40a6.25 6.25 0 1 0 12.5 0a6.25 6.25 0 1 0 -12.5 0zM1327.08 203.52a6.25 6.25 0 1 0 12.5 0a6.25 6.25 0 1 0 -12.5 0zM1332.10 203.52a6.25 6.25 0 1 0 12.5 0a6.25 6.25 0 1 0 -12.5 0zM1337.12 259.28a6.25 6.25 0 1 0 12.5 0a6.25 6.25 0 1 0 -12.5 0zM1342.15 266.25a6.25 6.25 0 1 0 12.5 0a6.25 6.25 0 1 0 -12.5 0zM1347.17 203.52a6.25 6.25 0 1 0 12.5 0a6.25 6.25 0 1 0 -12.5 0zM1352.19 231.40a6.25 6.25 0 1 0 12.5 0a6.25 6.25 0 1 0 -12.5 0zM1357.21 210.49a6.25 6.25 0 1 0 12.5 0a6.25 6.25 0 1 0 -12.5 0zM1362.24 224.43a6.25 6.25 0 1 0 12.5 0a6.25 6.25 0 1 0 -12.5 0zM1367.26 196.55a6.25 6.25 0 1 0 12.5 0a6.25 6.25 0 1 0 -12.5 0zM1372.28 210.49a6.25 6.25 0 1 0 12.5 0a6.25 6.25 0 1 0 -12.5 0zM1377.30 224.43a6.25 6.25 0 1 0 12.5 0a6.25 6.25 0 1 0 -12.5 0zM1382.32 203.52a6.25 6.25 0 1 0 12.5 0a6.25 6.25 0 1 0 -12.5 0zM1387.35 252.31a6.25 6.25 0 1 0 12.5 0a6.25 6.25 0 1 0 -12.5 0zM1392.37 252.31a6.25 6.25 0 1 0 12.5 0a6.25 6.25 0 1 0 -12.5 0zM1397.39 238.37a6.25 6.25 0 1 0 12.5 0a6.25 6.25 0 1 0 -12.5 0zM1402.41 301.10a6.25 6.25 0 1 0 12.5 0a6.25 6.25 0 1 0 -12.5 0zM1407.44 287.16a6.25 6.25 0 1 0 12.5 0a6.25 6.25 0 1 0 -12.5 0zM1412.46 356.86a6.25 6.25 0 1 0 12.5 0a6.25 6.25 0 1 0 -12.5 0zM1417.48 294.13a6.25 6.25 0 1 0 12.5 0a6.25 6.25 0 1 0 -12.5 0zM1422.50 294.13a6.25 6.25 0 1 0 12.5 0a6.25 6.25 0 1 0 -12.5 0zM1427.52 252.31a6.25 6.25 0 1 0 12.5 0a6.25 6.25 0 1 0 -12.5 0zM1432.55 245.34a6.25 6.25 0 1 0 12.5 0a6.25 6.25 0 1 0 -12.5 0zM1437.57 259.28a6.25 6.25 0 1 0 12.5 0a6.25 6.25 0 1 0 -12.5 0zM1442.59 252.31a6.25 6.25 0 1 0 12.5 0a6.25 6.25 0 1 0 -12.5 0zM1447.61 252.31a6.25 6.25 0 1 0 12.5 0a6.25 6.25 0 1 0 -12.5 0zM1452.64 266.25a6.25 6.25 0 1 0 12.5 0a6.25 6.25 0 1 0 -12.5 0zM1457.66 287.16a6.25 6.25 0 1 0 12.5 0a6.25 6.25 0 1 0 -12.5 0zM1462.68 301.10a6.25 6.25 0 1 0 12.5 0a6.25 6.25 0 1 0 -12.5 0zM1467.70 287.16a6.25 6.25 0 1 0 12.5 0a6.25 6.25 0 1 0 -12.5 0zM1472.73 287.16a6.25 6.25 0 1 0 12.5 0a6.25 6.25 0 1 0 -12.5 0zM1477.75 377.77a6.25 6.25 0 1 0 12.5 0a6.25 6.25 0 1 0 -12.5 0zM1482.77 454.44a6.25 6.25 0 1 0 12.5 0a6.25 6.25 0 1 0 -12.5 0zM1487.79 419.59a6.25 6.25 0 1 0 12.5 0a6.25 6.25 0 1 0 -12.5 0zM1492.81 287.16a6.25 6.25 0 1 0 12.5 0a6.25 6.25 0 1 0 -12.5 0zM1497.84 273.22a6.25 6.25 0 1 0 12.5 0a6.25 6.25 0 1 0 -12.5 0zM1502.86 259.28a6.25 6.25 0 1 0 12.5 0a6.25 6.25 0 1 0 -12.5 0zM1507.88 280.19a6.25 6.25 0 1 0 12.5 0a6.25 6.25 0 1 0 -12.5 0zM1512.90 308.07a6.25 6.25 0 1 0 12.5 0a6.25 6.25 0 1 0 -12.5 0zM1517.93 370.80a6.25 6.25 0 1 0 12.5 0a6.25 6.25 0 1 0 -12.5 0zM1522.95 294.13a6.25 6.25 0 1 0 12.5 0a6.25 6.25 0 1 0 -12.5 0zM1527.97 384.74a6.25 6.25 0 1 0 12.5 0a6.25 6.25 0 1 0 -12.5 0zM1532.99 363.83a6.25 6.25 0 1 0 12.5 0a6.25 6.25 0 1 0 -12.5 0zM1538.01 356.86a6.25 6.25 0 1 0 12.5 0a6.25 6.25 0 1 0 -12.5 0zM1543.04 294.13a6.25 6.25 0 1 0 12.5 0a6.25 6.25 0 1 0 -12.5 0zM1548.06 308.07a6.25 6.25 0 1 0 12.5 0a6.25 6.25 0 1 0 -12.5 0zM1553.08 266.25a6.25 6.25 0 1 0 12.5 0a6.25 6.25 0 1 0 -12.5 0zM1558.10 238.37a6.25 6.25 0 1 0 12.5 0a6.25 6.25 0 1 0 -12.5 0zM1563.13 245.34a6.25 6.25 0 1 0 12.5 0a6.25 6.25 0 1 0 -12.5 0zM1568.15 252.31a6.25 6.25 0 1 0 12.5 0a6.25 6.25 0 1 0 -12.5 0zM1573.17 266.25a6.25 6.25 0 1 0 12.5 0a6.25 6.25 0 1 0 -12.5 0zM1578.19 224.43a6.25 6.25 0 1 0 12.5 0a6.25 6.25 0 1 0 -12.5 0zM1583.21 224.43a6.25 6.25 0 1 0 12.5 0a6.25 6.25 0 1 0 -12.5 0zM1588.24 224.43a6.25 6.25 0 1 0 12.5 0a6.25 6.25 0 1 0 -12.5 0zM1593.26 238.37a6.25 6.25 0 1 0 12.5 0a6.25 6.25 0 1 0 -12.5 0zM1598.28 224.43a6.25 6.25 0 1 0 12.5 0a6.25 6.25 0 1 0 -12.5 0zM1603.30 231.40a6.25 6.25 0 1 0 12.5 0a6.25 6.25 0 1 0 -12.5 0zM1608.33 238.37a6.25 6.25 0 1 0 12.5 0a6.25 6.25 0 1 0 -12.5 0zM1613.35 252.31a6.25 6.25 0 1 0 12.5 0a6.25 6.25 0 1 0 -12.5 0zM1618.37 252.31a6.25 6.25 0 1 0 12.5 0a6.25 6.25 0 1 0 -12.5 0zM1623.39 245.34a6.25 6.25 0 1 0 12.5 0a6.25 6.25 0 1 0 -12.5 0zM1628.41 245.34a6.25 6.25 0 1 0 12.5 0a6.25 6.25 0 1 0 -12.5 0zM1633.44 252.31a6.25 6.25 0 1 0 12.5 0a6.25 6.25 0 1 0 -12.5 0zM1638.46 245.34a6.25 6.25 0 1 0 12.5 0a6.25 6.25 0 1 0 -12.5 0zM1643.48 245.34a6.25 6.25 0 1 0 12.5 0a6.25 6.25 0 1 0 -12.5 0zM1648.50 245.34a6.25 6.25 0 1 0 12.5 0a6.25 6.25 0 1 0 -12.5 0zM1653.53 231.40a6.25 6.25 0 1 0 12.5 0a6.25 6.25 0 1 0 -12.5 0zM1658.55 210.49a6.25 6.25 0 1 0 12.5 0a6.25 6.25 0 1 0 -12.5 0zM1663.57 217.46a6.25 6.25 0 1 0 12.5 0a6.25 6.25 0 1 0 -12.5 0zM1668.59 252.31a6.25 6.25 0 1 0 12.5 0a6.25 6.25 0 1 0 -12.5 0zM1673.62 231.40a6.25 6.25 0 1 0 12.5 0a6.25 6.25 0 1 0 -12.5 0zM1678.64 252.31a6.25 6.25 0 1 0 12.5 0a6.25 6.25 0 1 0 -12.5 0zM1683.66 238.37a6.25 6.25 0 1 0 12.5 0a6.25 6.25 0 1 0 -12.5 0zM1688.68 252.31a6.25 6.25 0 1 0 12.5 0a6.25 6.25 0 1 0 -12.5 0zM1693.70 266.25a6.25 6.25 0 1 0 12.5 0a6.25 6.25 0 1 0 -12.5 0zM1698.73 238.37a6.25 6.25 0 1 0 12.5 0a6.25 6.25 0 1 0 -12.5 0zM1703.75 238.37a6.25 6.25 0 1 0 12.5 0a6.25 6.25 0 1 0 -12.5 0zM1708.77 259.28a6.25 6.25 0 1 0 12.5 0a6.25 6.25 0 1 0 -12.5 0zM1713.79 259.28a6.25 6.25 0 1 0 12.5 0a6.25 6.25 0 1 0 -12.5 0zM1718.82 238.37a6.25 6.25 0 1 0 12.5 0a6.25 6.25 0 1 0 -12.5 0zM1723.84 308.07a6.25 6.25 0 1 0 12.5 0a6.25 6.25 0 1 0 -12.5 0zM1728.86 335.95a6.25 6.25 0 1 0 12.5 0a6.25 6.25 0 1 0 -12.5 0zM1733.88 315.04a6.25 6.25 0 1 0 12.5 0a6.25 6.25 0 1 0 -12.5 0zM1738.90 384.74a6.25 6.25 0 1 0 12.5 0a6.25 6.25 0 1 0 -12.5 0zM1743.93 370.80a6.25 6.25 0 1 0 12.5 0a6.25 6.25 0 1 0 -12.5 0zM1748.95 398.68a6.25 6.25 0 1 0 12.5 0a6.25 6.25 0 1 0 -12.5 0zM1753.97 545.05a6.25 6.25 0 1 0 12.5 0a6.25 6.25 0 1 0 -12.5 0zM1758.99 433.53a6.25 6.25 0 1 0 12.5 0a6.25 6.25 0 1 0 -12.5 0zM1764.02 475.35a6.25 6.25 0 1 0 12.5 0a6.25 6.25 0 1 0 -12.5 0zM1769.04 426.56a6.25 6.25 0 1 0 12.5 0a6.25 6.25 0 1 0 -12.5 0zM1774.06 545.05a6.25 6.25 0 1 0 12.5 0a6.25 6.25 0 1 0 -12.5 0zM1779.08 426.56a6.25 6.25 0 1 0 12.5 0a6.25 6.25 0 1 0 -12.5 0zM1784.10 384.74a6.25 6.25 0 1 0 12.5 0a6.25 6.25 0 1 0 -12.5 0zM1789.13 398.68a6.25 6.25 0 1 0 12.5 0a6.25 6.25 0 1 0 -12.5 0zM1794.15 405.65a6.25 6.25 0 1 0 12.5 0a6.25 6.25 0 1 0 -12.5 0zM1799.17 447.47a6.25 6.25 0 1 0 12.5 0a6.25 6.25 0 1 0 -12.5 0zM1804.19 552.02a6.25 6.25 0 1 0 12.5 0a6.25 6.25 0 1 0 -12.5 0zM1809.22 572.93a6.25 6.25 0 1 0 12.5 0a6.25 6.25 0 1 0 -12.5 0zM1814.24 552.02a6.25 6.25 0 1 0 12.5 0a6.25 6.25 0 1 0 -12.5 0zM1819.26 558.99a6.25 6.25 0 1 0 12.5 0a6.25 6.25 0 1 0 -12.5 0zM1824.28 565.96a6.25 6.25 0 1 0 12.5 0a6.25 6.25 0 1 0 -12.5 0zM1829.30 558.99a6.25 6.25 0 1 0 12.5 0a6.25 6.25 0 1 0 -12.5 0zM1834.33 552.02a6.25 6.25 0 1 0 12.5 0a6.25 6.25 0 1 0 -12.5 0zM1839.35 579.90a6.25 6.25 0 1 0 12.5 0a6.25 6.25 0 1 0 -12.5 0zM1844.37 579.90a6.25 6.25 0 1 0 12.5 0a6.25 6.25 0 1 0 -12.5 0zM1849.39 524.14a6.25 6.25 0 1 0 12.5 0a6.25 6.25 0 1 0 -12.5 0zM1854.42 391.71a6.25 6.25 0 1 0 12.5 0a6.25 6.25 0 1 0 -12.5 0zM1859.44 301.10a6.25 6.25 0 1 0 12.5 0a6.25 6.25 0 1 0 -12.5 0zM1864.46 273.22a6.25 6.25 0 1 0 12.5 0a6.25 6.25 0 1 0 -12.5 0zM1869.48 328.98a6.25 6.25 0 1 0 12.5 0a6.25 6.25 0 1 0 -12.5 0zM1874.51 335.95a6.25 6.25 0 1 0 12.5 0a6.25 6.25 0 1 0 -12.5 0zM1879.53 238.37a6.25 6.25 0 1 0 12.5 0a6.25 6.25 0 1 0 -12.5 0zM1884.55 238.37a6.25 6.25 0 1 0 12.5 0a6.25 6.25 0 1 0 -12.5 0zM1889.57 266.25a6.25 6.25 0 1 0 12.5 0a6.25 6.25 0 1 0 -12.5 0zM1894.59 259.28a6.25 6.25 0 1 0 12.5 0a6.25 6.25 0 1 0 -12.5 0zM1899.62 273.22a6.25 6.25 0 1 0 12.5 0a6.25 6.25 0 1 0 -12.5 0zM1904.64 280.19a6.25 6.25 0 1 0 12.5 0a6.25 6.25 0 1 0 -12.5 0zM1909.66 280.19a6.25 6.25 0 1 0 12.5 0a6.25 6.25 0 1 0 -12.5 0zM1914.68 252.31a6.25 6.25 0 1 0 12.5 0a6.25 6.25 0 1 0 -12.5 0zM1919.71 259.28a6.25 6.25 0 1 0 12.5 0a6.25 6.25 0 1 0 -12.5 0zM1924.73 238.37a6.25 6.25 0 1 0 12.5 0a6.25 6.25 0 1 0 -12.5 0zM1929.75 287.16a6.25 6.25 0 1 0 12.5 0a6.25 6.25 0 1 0 -12.5 0z" fill="#cccccc"/>
<text transform="translate(90.5 760.40) scale(1 1.04)" text-anchor="end" fill="#666666">0</text>
<text transform="translate(90.5 690.70) scale(1 1.04)" text-anchor="end" fill="#666666">10</text>
<text transform="translate(90.5 621.00) scale(1 1.04)" text-anchor="end" fill="#666666">20</text>
<text transform="translate(90.5 551.30) scale(1 1.04)" text-anchor="end" fill="#666666">30</text>
<text transform="translate(90.5 481.60) scale(1 1.04)" text-anchor="end" fill="#666666">40</text>
<text transform="translate(90.5 411.90) scale(1 1.04)" text-anchor="end" fill="#666666">50</text>
<text transform="translate(90.5 342.20) scale(1 1.04)" text-anchor="end" fill="#666666">60</text>
<text transform="translate(90.5 272.50) scale(1 1.04)" text-anchor="end" fill="#666666">70</text>
<text transform="translate(90.5 202.80) scale(1 1.04)" text-anchor="end" fill="#666666">80</text>
<text transform="translate(90.5 133.10) scale(1 1.04)" text-anchor="end" fill="#666666">90</text>
<text transform="translate(90.5 63.40) scale(1 1.04)" text-anchor="end" fill="#666666">100</text>
<text transform="translate(30.5 405.65) rotate(-90) scale(1 1.04)" text-anchor="middle" fill="#666666">Value</text>
<text transform="translate(112.38 775.10) rotate(-50) scale(1 1.04)" text-anchor="end" fill="#666666">1 Aug, 2023</text>
<text transform="translate(147.38 775.10) rotate(-50) scale(1 1.04)" text-anchor="end" fill="#666666">8 Aug, 2023</text>
<text transform="translate(182.38 775.10) rotate(-50) scale(1 1.04)" text-anchor="end" fill="#666666">15 Aug, 2023</text>
<text transform="translate(217.38 775.10) rotate(-50) scale(1 1.04)" text-anchor="end" fill="#666666">22 Aug, 2023</text>
<text transform="translate(252.38 775.10) rotate(-50) scale(1 1.04)" text-anchor="end" fill="#666666">29 Aug, 2023</text>
<text transform="translate(288.38 775.10) rotate(-50) scale(1 1.04)" text-anchor="end" fill="#666666">5 Sep, 2023</text>
<text transform="translate(323.38 775.10) rotate(-50) scale(1 1.04)" text-anchor="end" fill="#666666">12 Sep, 2023</text>
<text transform="translate(358.38 775.10) rotate(-50) scale(1 1.04)" text-anchor="end" fill="#666666">19 Sep, 2023</text>
<text transform="translate(393.38 775.10) rotate(-50) scale(1 1.04)" text-anchor="end" fill="#666666">26 Sep, 2023</text>
<text transform="translate(428.38 775.10) rotate(-50) scale(1 1.04)" text-anchor="end" fill="#666666">3 Oct, 2023</text>
<text transform="translate(463.38 775.10) rotate(-50) scale(1 1.04)" text-anchor="end" fill="#666666">10 Oct, 2023</text>
<text transform="translate(499.38 775.10) rotate(-50) scale(1 1.04)" text-anchor="end" fill="#666666">17 Oct, 2023</text>
<text transform="translate(534.38 775.10) rotate(-50) scale(1 1.04)" text-anchor="end" fill="#666666">24 Oct, 2023</text>
<text transform="translate(569.38 775.10) rotate(-50) scale(1 1.04)" text-anchor="end" fill="#666666">31 Oct, 2023</text>
<text transform="translate(604.38 775.10) rotate(-50) scale(1 1.04)" text-anchor="end" fill="#666666">7 Nov, 2023</text>
<text transform="translate(640.38 775.10) rotate(-50) scale(1 1.04)" text-anchor="end" fill="#666666">14 Nov, 2023</text>
<text transform="translate(675.38 775.10) rotate(-50) scale(1 1.04)" text-anchor="end" fill="#666666">21 Nov, 2023</text>
<text transform="translate(710.38 775.10) rotate(-50) scale(1 1.04)" text-anchor="end" fill="#666666">28 Nov, 2023</text>
<text transform="translate(745.38 775.10) rotate(-50) scale(1 1.04)" text-anchor="end" fill="#666666">5 Dec, 2023</text>
<text transform="translate(780.38 775.10) rotate(-50) scale(1 1.04)" text-anchor="end" fill="#666666">12 Dec, 2023</text>
<text transform="translate(816.38 775.10) rotate(-50) scale(1 1.04)" text-anchor="end" fill="#666666">19 Dec, 2023</text>
<text transform="translate(851.38 775.10) rotate(-50) scale(1 1.04)" text-anchor="end" fill="#666666">26 Dec, 2023</text>
<text transform="translate(886.38 775.10) rotate(-50) scale(1 1.04)" text-anchor="end" fill="#666666">2 Jan, 2024</text>
<text transform="translate(921.38 775.10) rotate(-50) scale(1 1.04)" text-anchor="end" fill="#666666">9 Jan, 2024</text>
<text transform="translate(956.38 775.10) rotate(-50) scale(1 1.04)" text-anchor="end" fill="#666666">16 Jan, 2024</text>
<text transform="translate(991.38 775.10) rotate(-50) scale(1 1.04)" text-anchor="end" fill="#666666">23 Jan, 2024</text>
<text transform="translate(1027.38 775.10) rotate(-50) scale(1 1.04)" text-anchor="end" fill="#666666">30 Jan, 2024</text>
<text transform="translate(1062.38 775.10) rotate(-50) scale(1 1.04)" text-anchor="end" fill="#666666">6 Feb, 2024</text>
<text transform="translate(1097.38 775.10) rotate(-50) scale(1 1.04)" text-anchor="end" fill="#666666">13 Feb, 2024</text>
<text transform="translate(1132.38 775.10) rotate(-50) scale(1 1.04)" text-anchor="end" fill="#666666">20 Feb, 2024</text>
<text transform="translate(1167.38 775.10) rotate(-50) scale(1 1.04)" text-anchor="end" fill="#666666">27 Feb, 2024</text>
<text transform="translate(1202.38 775.10) rotate(-50) scale(1 1.04)" text-anchor="end" fill="#666666">5 Mar, 2024</text>
<text transform="translate(1238.38 775.10) rotate(-50) scale(1 1.04)" text-anchor="end" fill="#666666">12 Mar, 2024</text>
<text transform="translate(1273.38 775.10) rotate(-50) scale(1 1.04)" text-anchor="end" fill="#666666">19 Mar, 2024</text>
<text transform="translate(1307.38 775.10) rotate(-50) scale(1 1.04)" text-anchor="end" fill="#666666">26 Mar, 2024</text>
<text transform="translate(1342.38 775.10) rotate(-50) scale(1 1.04)" text-anchor="end" fill="#666666">2 Apr, 2024</text>
<text transform="translate(1377.38 775.10) rotate(-50) scale(1 1.04)" text-anchor="end" fill="#666666">9 Apr, 2024</text>
<text transform="translate(1413.38 775.10) rotate(-50) scale(1 1.04)" text-anchor="end" fill="#666666">16 Apr, 2024</text>
<text transform="translate(1448.38 775.10) rotate(-50) scale(1 1.04)" text-anchor="end" fill="#666666">23 Apr, 2024</text>
<text transform="translate(1483.38 775.10) rotate(-50) scale(1 1.04)" text-anchor="end" fill="#666666">30 Apr, 2024</text>
<text transform="translate(1518.38 775.10) rotate(-50) scale(1 1.04)" text-anchor="end" fill="#666666">7 May, 2024</text>
<text transform="translate(1553.38 775.10) rotate(-50) scale(1 1.04)" text-anchor="end" fill="#666666">14 May, 2024</text>
<text transform="translate(1588.38 775.10) rotate(-50) scale(1 1.04)" text-anchor="end" fill="#666666">21 May, 2024</text>
<text transform="translate(1624.38 775.10) rotate(-50) scale(1 1.04)" text-anchor="end" fill="#666666">28 May, 2024</text>
<text transform="translate(1659.38 775.10) rotate(-50) scale(1 1.04)" text-anchor="end" fill="#666666">4 Jun, 2024</text>
<text transform="translate(1694.38 775.10) rotate(-50) scale(1 1.04)" text-anchor="end" fill="#666666">11 Jun, 2024</text>
<text transform="translate(1729.38 775.10) rotate(-50) scale(1 1.04)" text-anchor="end" fill="#666666">18 Jun, 2024</text>
<text transform="translate(1764.38 775.10) rotate(-50) scale(1 1.04)" text-anchor="end" fill="#666666">25 Jun, 2024</text>
<text transform="translate(1799.38 775.10) rotate(-50) scale(1 1.04)" text-anchor="end" fill="#666666">2 Jul, 2024</text>
<text transform="translate(1835.38 775.10) rotate(-50) scale(1 1.04)" text-anchor="end" fill="#666666">9 Jul, 2024</text>
<text transform="translate(1870.38 775.10) rotate(-50) scale(1 1.04)" text-anchor="end" fill="#666666">16 Jul, 2024</text>
<text transform="translate(1905.38 775.10) rotate(-50) scale(1 1.04)" text-anchor="end" fill="#666666">23 Jul, 2024</text>
<text transform="translate(1940.38 775.10) rotate(-50) scale(1 1.04)" text-anchor="end" fill="#666666">30 Jul, 2024</text>
<rect x="812.6" y="18.6" width="70" height="21" fill="#cccccc" stroke="#cccccc" stroke-width="5.25"/>
<text transform="translate(893.1 35) scale(1 1.04)" fill="#666666">Crypto Fear &amp; Greed Index</text>
</svg>
</body></html>
